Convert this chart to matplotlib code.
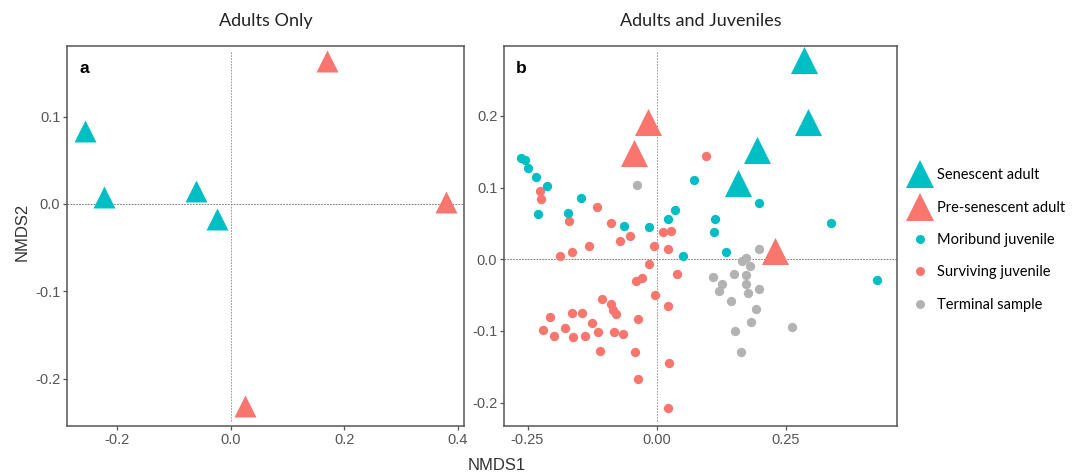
import numpy as np
import matplotlib
matplotlib.use('Agg')
import matplotlib.pyplot as plt
from matplotlib.lines import Line2D

# colours (ggplot defaults)
CYAN = '#00BFC4'
RED = '#F8766D'
GREY = '#B3B3B3'

# panel a: adults only
a_sen_x = [-0.256, -0.223, -0.061, -0.024]
a_sen_y = [0.083, 0.008, 0.0145, -0.017]
a_pre_x = [0.170, 0.379, 0.025]
a_pre_y = [0.163, 0.002, -0.231]

# panel b: adults and juveniles
b_sen_x = [0.2855, 0.2926, 0.194, 0.158]
b_sen_y = [0.278, 0.191, 0.152, 0.106]
b_pre_x = [-0.0174, -0.043, 0.229]
b_pre_y = [0.191, 0.148, 0.0116]

mor_x = [-0.263, -0.255, -0.250, -0.2326, -0.212, -0.2306, -0.147, -0.172, -0.0627, -0.0142,
         0.022, 0.0355, 0.051, 0.073, 0.114, 0.111, 0.134, 0.198, 0.338, 0.426]
mor_y = [0.141, 0.139, 0.128, 0.115, 0.102, 0.063, 0.085, 0.064, 0.0465, 0.045,
         0.056, 0.069, 0.004, 0.111, 0.056, 0.038, 0.0098, 0.078, 0.0507, -0.0284]

sur_x = [0.0956, -0.226, -0.223, -0.116, -0.169, -0.089, -0.0717, -0.0517, -0.130, -0.163,
         -0.187, -0.0052, 0.0116, 0.027, 0.022, -0.0142, 0.040, -0.0407, -0.0278, -0.0026,
         0.022, -0.036, -0.1066, -0.0885, -0.084, -0.0795, -0.163, -0.1447, -0.2067, -0.2196,
         -0.199, -0.178, -0.1615, -0.139, -0.1247, -0.113, -0.110, -0.0827, -0.0646, -0.042,
         -0.0355, 0.0245, 0.022]
sur_y = [0.1437, 0.0958, 0.0837, 0.0735, 0.054, 0.051, 0.025, 0.032, 0.019, 0.0107,
         0.0042, 0.019, 0.038, 0.0395, 0.014, -0.007, -0.020, -0.030, -0.0265, -0.0497,
         -0.0656, -0.0837, -0.0558, -0.0623, -0.0707, -0.0767, -0.0748, -0.0748, -0.080, -0.0986,
         -0.107, -0.096, -0.108, -0.107, -0.089, -0.102, -0.128, -0.102, -0.104, -0.1297,
         -0.1664, -0.144, -0.208]

ter_x = [-0.0388, 0.198, 0.174, 0.165, 0.181, 0.110, 0.150, 0.173, 0.127, 0.173,
         0.121, 0.198, 0.178, 0.145, 0.1925, 0.182, 0.2616, 0.152, 0.163]
ter_y = [0.1037, 0.014, 0.0014, -0.003, -0.010, -0.025, -0.021, -0.022, -0.034, -0.034,
         -0.0446, -0.041, -0.047, -0.0576, -0.0688, -0.087, -0.094, -0.100, -0.129]

legend_labels = ['Senescent adult', 'Pre-senescent adult', 'Moribund juvenile',
                 'Surviving juvenile', 'Terminal sample']

TICK_FONT = 'Liberation Sans'
TEXT_FONT = 'Lato'

fig = plt.figure(figsize=(10.75, 4.75), dpi=100)
ax_a = fig.add_axes([0.0626, 0.1032, 0.369, 0.8006])
ax_b = fig.add_axes([0.4691, 0.1032, 0.365, 0.8006])


def style_axis(ax):
    for sp in ax.spines.values():
        sp.set_color('#555555')
        sp.set_linewidth(1.1)
    ax.tick_params(colors='#555555', labelcolor='#555555', length=3, width=0.9,
                   labelsize=10.5, pad=2)
    for lab in ax.get_xticklabels() + ax.get_yticklabels():
        lab.set_family(TICK_FONT)
    ax.axhline(0, color='#666666', lw=0.6, ls=(0, (2, 1.5)), zorder=1)
    ax.axvline(0, ymin=0.012, ymax=0.987, color='#888888', lw=0.6, ls=(0, (2, 1.5)), zorder=1)


# panel a
ax_a.scatter(a_sen_x, a_sen_y, marker='^', s=250, color=CYAN, linewidths=0, zorder=3)
ax_a.scatter(a_pre_x, a_pre_y, marker='^', s=250, color=RED, linewidths=0, zorder=3)
ax_a.set_xlim(-0.288, 0.411)
ax_a.set_ylim(-0.254, 0.181)
ax_a.set_xticks([-0.2, 0.0, 0.2, 0.4])
ax_a.set_xticklabels(['-0.2', '0.0', '0.2', '0.4'])
ax_a.set_yticks([-0.2, -0.1, 0.0, 0.1])
ax_a.set_yticklabels(['-0.2', '-0.1', '0.0', '0.1'])
style_axis(ax_a)
ax_a.text(0.03, 0.94, 'a', transform=ax_a.transAxes, fontsize=12.5, fontweight='bold',
          family='Liberation Sans', va='center', ha='left')

# panel b
ax_b.scatter(ter_x, ter_y, marker='o', s=45, color=GREY, linewidths=0, zorder=2)
ax_b.scatter(sur_x, sur_y, marker='o', s=45, color=RED, linewidths=0, zorder=2)
ax_b.scatter(mor_x, mor_y, marker='o', s=45, color=CYAN, linewidths=0, zorder=2)
ax_b.scatter(b_sen_x, b_sen_y, marker='^', s=380, color=CYAN, linewidths=0, zorder=3)
ax_b.scatter(b_pre_x, b_pre_y, marker='^', s=380, color=RED, linewidths=0, zorder=3)
ax_b.set_xlim(-0.295, 0.465)
ax_b.set_ylim(-0.2325, 0.298)
ax_b.set_xticks([-0.25, 0.0, 0.25])
ax_b.set_xticklabels(['-0.25', '0.00', '0.25'])
ax_b.set_yticks([-0.2, -0.1, 0.0, 0.1, 0.2])
ax_b.set_yticklabels(['-0.2', '-0.1', '0.0', '0.1', '0.2'])
style_axis(ax_b)
ax_b.text(0.03, 0.94, 'b', transform=ax_b.transAxes, fontsize=12.5, fontweight='bold',
          family='Liberation Sans', va='center', ha='left')

# titles and axis labels
fig.text(265.7 / 1075, 1 - 21 / 475, 'Adults Only', ha='center', va='center',
         fontsize=13, family=TEXT_FONT, color='#222222')
fig.text(700.5 / 1075, 1 - 21 / 475, 'Adults and Juveniles', ha='center', va='center',
         fontsize=13, family=TEXT_FONT, color='#222222')
fig.text(497 / 1075, 1 - 466 / 475, 'NMDS1', ha='center', va='center',
         fontsize=12, family=TICK_FONT, color='#333333')
fig.text(22 / 1075, 1 - 232 / 475, 'NMDS2', ha='center', va='center', rotation=90,
         fontsize=12, family=TICK_FONT, color='#333333')

# legend
handles = [
    Line2D([], [], marker='^', ls='', color=CYAN, markersize=20, markeredgewidth=0),
    Line2D([], [], marker='^', ls='', color=RED, markersize=20, markeredgewidth=0),
    Line2D([], [], marker='o', ls='', color=CYAN, markersize=6.5, markeredgewidth=0),
    Line2D([], [], marker='o', ls='', color=RED, markersize=6.5, markeredgewidth=0),
    Line2D([], [], marker='o', ls='', color=GREY, markersize=6.5, markeredgewidth=0),
]
fig.legend(handles, legend_labels, loc='center left', bbox_to_anchor=(902 / 1075, 1 - 240 / 475),
           frameon=False, prop={'family': TEXT_FONT, 'size': 10.5}, handlelength=1.6,
           handletextpad=0.4, labelspacing=1.26, borderaxespad=0)

fig.savefig('out.png', dpi=100)
